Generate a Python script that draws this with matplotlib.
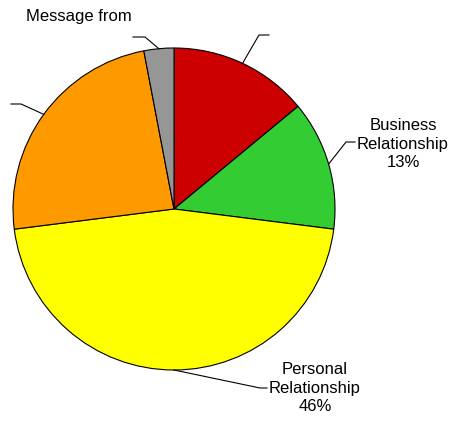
import matplotlib.pyplot as plt
import numpy as np

plt.rcParams['font.family'] = ['Liberation Sans', 'DejaVu Sans']

# Share of messages by relationship type (percent), clockwise from 12 o'clock
categories = ['', 'Business\nRelationship', 'Personal\nRelationship', '', 'Message from']
shares = [14, 13, 46, 24, 3]
show_pct = [False, True, True, False, False]
colors = ['#CC0000', '#33CC33', '#FFFF00', '#FF9900', '#969696']

W, H = 454, 425
fig = plt.figure(figsize=(W / 100, H / 100), dpi=100)
ax = fig.add_axes([0, 0, 1, 1])

cx, cy, r = 174, H - 209, 161
wedges, _ = ax.pie(shares, colors=colors, startangle=90, counterclock=False,
                   center=(cx, cy), radius=r, frame=True,
                   wedgeprops=dict(edgecolor='black', linewidth=0.8))
ax.set_xlim(0, W)
ax.set_ylim(0, H)
ax.axis('off')

# leader elbow / end points and text anchor for each slice (pixel coords, y down)
elbows = [(259, 35), (346, 142), (260, 388), (21, 104), (145, 37)]
ends = [(269, 35), (355, 142), (267, 388), (11, 104), (133, 37)]
text_pos = [None, (403, 144), (315, 388), None, (79, 16)]

for w, cat, pct, show, el, en, tp in zip(wedges, categories, shares, show_pct,
                                          elbows, ends, text_pos):
    mid = np.deg2rad((w.theta1 + w.theta2) / 2)
    sx, sy = cx + r * np.cos(mid), cy + r * np.sin(mid)
    ax.plot([sx, el[0], en[0]], [sy, H - el[1], H - en[1]],
            color='black', linewidth=0.8, zorder=3)
    if tp is not None:
        label = f'{cat}\n{pct}%' if show else cat
        ax.text(tp[0], H - tp[1], label, ha='center', va='center',
                fontsize=12, linespacing=1.32, color='black')

fig.savefig('out.png', dpi=100)
